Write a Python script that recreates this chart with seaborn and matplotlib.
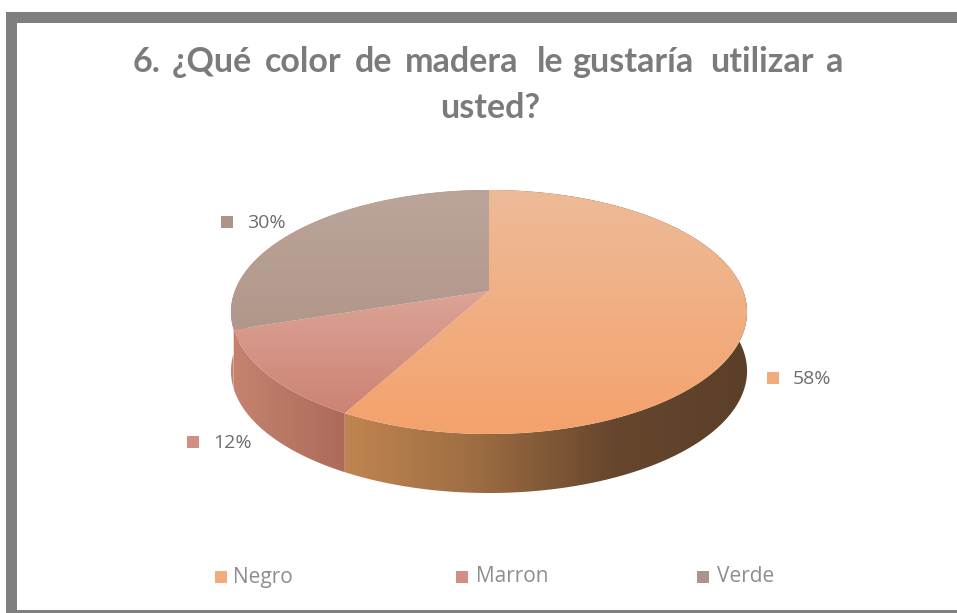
import numpy as np
import matplotlib
matplotlib.use("Agg")
import matplotlib.pyplot as plt
from matplotlib.patches import Polygon, Rectangle
import seaborn as sns

categorias = ["Negro", "Marron", "Verde"]
valores = [58, 12, 30]
palabras = ["6.", "¿Qué", "color", "de", "madera", "le", "gustaría", "utilizar", "a"]
segunda_linea = "usted?"

# top face (vertical gradient), side wall (horizontal gradient)
caras = [["#edbb98", "#f5a26c"], ["#dca497", "#cc8373"], ["#bba59b", "#b2968a"]]
paredes = [["#c08550", "#9c6c42", "#66462d", "#5c3f29"], ["#c4826f", "#ad6a5a"], ["#c4826f", "#c4826f"]]
marcas = ["#f4ab7b", "#d08f82", "#ac9489"]

sns.set_theme(style="white")
plt.rcParams["font.family"] = ["Open Sans", "DejaVu Sans"]

fig = plt.figure(figsize=(9.57, 6.13), dpi=100)
ax = fig.add_axes([0, 0, 1, 1])

# pie geometry, perspective circle with the apex above the ellipse centre
cx, cy = 489, 291
A, B, k = 254.2, 118.4, 0.172
prof = 59


def borde(t):
    u, v = np.cos(t), np.sin(t)
    d = 1 + k * v
    return cx + A * u / d, cy - B * v / d


def degradado(poly, colores, horizontal):
    xs, ys = poly[:, 0], poly[:, 1]
    cmap = sns.blend_palette(colores, as_cmap=True)
    g = np.linspace(0, 1, 256)
    g = g[None, :] if horizontal else g[:, None]
    im = ax.imshow(g, cmap=cmap, aspect="auto", vmin=0, vmax=1, interpolation="bilinear",
                   extent=[xs.min(), xs.max(), ys.max(), ys.min()], origin="upper")
    p = Polygon(poly, closed=True, transform=ax.transData, facecolor="none", edgecolor="none")
    ax.add_patch(p)
    im.set_clip_path(p)


cortes = np.pi / 2 - 2 * np.pi * np.cumsum([0] + valores) / sum(valores)
tramos = []
for i in range(len(valores)):
    t = np.linspace(cortes[i], cortes[i + 1], 300)
    tramos.append(np.column_stack(borde(t)))

# walls first, the top faces cover what is behind
for i in [2, 1, 0]:
    arco = tramos[i]
    abajo = arco[::-1] + [0, prof]
    poly = np.vstack([arco, abajo])
    degradado(poly, paredes[i], True)

for i in range(len(valores)):
    poly = np.vstack([[cx, cy], tramos[i]])
    degradado(poly, caras[i], False)

# data labels
pos_etq = [(773, 378), (193, 442), (227, 222)]
for i, (x, y) in enumerate(pos_etq):
    ax.scatter([x], [y], marker="s", s=85, color=marcas[i], linewidths=0)
    ax.text(x + 20, y + 1, f"{valores[i]}%", fontsize=14, color="#6e6e6e", va="center", ha="left")

# legend
pos_ley = [(221, 233), (462, 476), (703, 717)]
for i, (xm, xt) in enumerate(pos_ley):
    ax.scatter([xm], [577], marker="s", s=85, color=marcas[i], linewidths=0)
    ax.text(xt, 577, categorias[i], fontsize=15, color="#8b8d90", va="center", ha="left")

# title, words placed one by one since the original line is justified
x_palabras = [133, 172, 265, 355, 405, 537, 572, 710, 825]
fuente = dict(fontsize=24.5, fontweight="bold", family=["Lato", "DejaVu Sans"], color="#7b7b7b", va="baseline")
for x, w in zip(x_palabras, palabras):
    ax.text(x, 72, w, ha="left", **fuente)
ax.text(490, 118, segunda_linea, ha="center", **fuente)

# frame, the right side is cut off by the picture
ax.add_patch(Rectangle((6, 12), 951, 11, color="#7f7f7f", linewidth=0))
ax.add_patch(Rectangle((6, 12), 11, 601, color="#7f7f7f", linewidth=0))
ax.add_patch(Rectangle((6, 610), 951, 3, color="#7f7f7f", linewidth=0))

ax.set_xlim(0, 957)
ax.set_ylim(613, 0)
ax.axis("off")

fig.savefig("out.png", dpi=100)
